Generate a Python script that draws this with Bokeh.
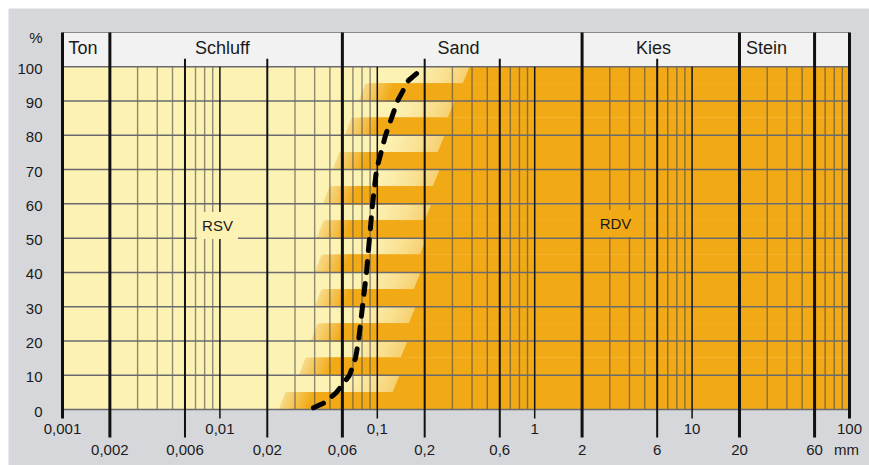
import math
from bokeh.plotting import figure
from bokeh.models import Range1d, Label
from bokeh.embed import file_html
from bokeh.resources import INLINE
from bokeh.core.properties import value

# ---------------- data ----------------
pct_ticks = [0, 10, 20, 30, 40, 50, 60, 70, 80, 90, 100]

# grading curve (percent passing vs grain size in mm)
curve_pct = [0.5, 2, 5, 10, 15, 20, 30, 40, 50, 60, 70, 80, 90, 96, 100]
curve_mm = [0.0393, 0.0462, 0.0551, 0.0666, 0.0727, 0.0760, 0.0805, 0.0854,
            0.0892, 0.0933, 0.0989, 0.1128, 0.1343, 0.1578, 0.2]

# staircase boundary between RSV and RDV zones
band_pct = [0, 10, 20, 30, 40, 50, 60, 70, 80, 90]
stripe_start_mm = [0.0236, 0.0316, 0.0377, 0.0399, 0.0399, 0.0411, 0.0449, 0.0519, 0.0619, 0.0760]
edge_mm = [0.1250, 0.1404, 0.1578, 0.1698, 0.1854, 0.1995, 0.2243, 0.2411, 0.2792, 0.3479]

# soil classes (header)
class_names = ["Ton", "Schluff", "Sand", "Kies", "Stein"]
class_label_mm = [0.00135, 0.01036, 0.328, 5.69, 29.7]
class_bounds_mm = [0.001, 0.002, 0.06, 2, 20, 60, 100]

# x tick marks / labels
decade_ticks = [0.001, 0.01, 0.1, 1, 10, 100]
decade_labels = ["0,001", "0,01", "0,1", "1", "10", "100"]
mid_ticks = [0.002, 0.006, 0.02, 0.06, 0.2, 0.6, 2, 6, 20, 60]
mid_labels = ["0,002", "0,006", "0,02", "0,06", "0,2", "0,6", "2", "6", "20", "60"]
unit_label = "mm"

zone_names = ["RSV", "RDV"]
zone_mm = [0.00966, 3.26]
zone_pct = [53.7, 54.3]

# ---------------- layout ----------------
MARGIN = 8
W, H = 861, 457     # gray panel size
X_MIN, X_MAX = 0.001, 100
PAD_L, PAD_R = 54, 20
PAD_T = 24          # pixels above header top
HEADER_TOP = 110
ZERO_PX = 401       # pixel row of 0 % from panel top
plot_w = W - PAD_L - PAD_R
D = plot_w / math.log10(X_MAX / X_MIN)         # px per decade
S = (ZERO_PX - PAD_T) / HEADER_TOP             # px per percent


def shift(mm, px):
    return mm * 10 ** (px / D)


x_start = shift(X_MIN, -PAD_L)
x_end = shift(X_MAX, PAD_R)
y_end = HEADER_TOP + PAD_T / S
y_start = -(H - ZERO_PX) / S

GRAY_BG = "#d6d7db"
HEADER_BG = "#f2f2f2"
PALE = (252, 242, 180)
ORANGE = (242, 169, 22)
LIGHT_OR = (246, 206, 110)
STRIPE_LIGHT = (247, 216, 130)
FONT = "Liberation Sans"
TXT = "#1a1a1a"


def hexc(c):
    return "#%02x%02x%02x" % tuple(int(round(v)) for v in c)


def lerp(c1, c2, t):
    return hexc([a + (b - a) * t for a, b in zip(c1, c2)])


p = figure(width=W + MARGIN, height=H + MARGIN, x_axis_type="log",
           x_axis_location=None, y_axis_location=None,
           x_range=Range1d(x_start, x_end), y_range=Range1d(y_start, y_end),
           output_backend="svg", toolbar_location=None,
           min_border_left=MARGIN, min_border_right=0, min_border_top=MARGIN, min_border_bottom=0,
           background_fill_color=GRAY_BG, border_fill_color="white", outline_line_color=None)
p.grid.grid_line_color = None

# base fills
p.quad(left=[X_MIN], right=[X_MAX], bottom=[0], top=[100], fill_color=hexc(PALE), line_color=None)
orange_from = shift(max(edge_mm), 12)
p.quad(left=[orange_from], right=[X_MAX], bottom=[0], top=[100], fill_color=hexc(ORANGE), line_color=None)
p.quad(left=[X_MIN], right=[X_MAX], bottom=[100], top=[HEADER_TOP], fill_color=HEADER_BG, line_color=None)

# staircase boundary with gradients
SLANT = 7
N_UP, G_UP = 14, 62
N_ST, W_ST = 10, 28
xs_list, ys_list, cols = [], [], []
for k, y0 in enumerate(band_pct):
    # upper half band: gradient towards slanted edge, then orange
    yb, yt = y0 + 5, y0 + 10
    xe = edge_mm[k]
    for i in range(N_UP + 1):
        d = -G_UP + G_UP * i / N_UP
        col = hexc(ORANGE) if i == N_UP else lerp(PALE, LIGHT_OR, (i / N_UP) ** 1.4)
        xs_list.append([shift(xe, d), X_MAX, X_MAX, shift(xe, d + SLANT)])
        ys_list.append([yb, yb, yt, yt])
        cols.append(col)
    # lower half band: orange stripe with gradient at its slanted left end
    yb, yt = y0 - (0.12 if y0 > 0 else 0), y0 + 5.12
    xs0 = stripe_start_mm[k]
    for i in range(N_ST + 1):
        d = W_ST * i / N_ST
        col = lerp(STRIPE_LIGHT, ORANGE, i / N_ST)
        xs_list.append([shift(xs0, d), X_MAX, X_MAX, shift(xs0, d + SLANT)])
        ys_list.append([yb, yb, yt, yt])
        cols.append(col)
p.patches(xs_list, ys_list, fill_color=cols, line_color=None)

# minor vertical grid lines (3,4,5,7,8,9 per decade)
minor = [m * 10.0 ** e for e in range(-3, 2) for m in (3, 4, 5, 7, 8, 9)]
p.segment(x0=minor, x1=minor, y0=[0] * len(minor), y1=[100] * len(minor),
          line_color="#4a4a4a", line_alpha=0.62, line_width=1.4)

# horizontal grid lines
p.segment(x0=[X_MIN] * len(pct_ticks), x1=[X_MAX] * len(pct_ticks), y0=pct_ticks, y1=pct_ticks,
          line_color="#6a6a6e", line_width=1.5)
p.segment(x0=[X_MIN], x1=[X_MAX], y0=[HEADER_TOP], y1=[HEADER_TOP], line_color="#8a8a8a", line_width=1)

# black vertical lines / ticks
LONG = -28 / S
SHORT = -9 / S
HEAD_TICK = 100 + 8 / S
sx, sy0, sy1, sw = [], [], [], []
for b in class_bounds_mm:
    sx.append(b); sy0.append(LONG if b in mid_ticks else SHORT); sy1.append(HEADER_TOP); sw.append(3)
for m in mid_ticks:
    if m not in class_bounds_mm:
        sx.append(m); sy0.append(LONG); sy1.append(HEAD_TICK); sw.append(2)
for d_ in decade_ticks:
    if d_ not in class_bounds_mm:
        sx.append(d_); sy0.append(SHORT); sy1.append(100); sw.append(1.5)
p.segment(x0=sx, x1=sx, y0=sy0, y1=sy1, line_color="#111111", line_width=sw)

# grading curve
p.line(curve_mm, curve_pct, line_color="black", line_width=5, line_dash="11 11",
       line_cap="round", line_join="round")

# header texts
p.text(x=class_label_mm, y=[HEADER_TOP - 15.5 / S] * len(class_names), text=class_names,
       text_font=value(FONT), text_font_size=value("18px"), text_color=TXT,
       text_align="center", text_baseline="middle")

# y labels
ylab_x = shift(X_MIN, -20)
p.text(x=[ylab_x] * len(pct_ticks), y=pct_ticks, text=[str(v) for v in pct_ticks],
       text_font=value(FONT), text_font_size=value("15px"), text_color=TXT,
       text_align="right", text_baseline="middle", y_offset=2)
p.text(x=[ylab_x], y=[HEADER_TOP - 5 / S], text=["%"],
       text_font=value(FONT), text_font_size=value("15px"), text_color=TXT,
       text_align="right", text_baseline="middle")

# x labels
row1 = -19 / S
row2 = -40 / S
p.text(x=decade_ticks, y=[row1] * len(decade_ticks), text=decade_labels,
       text_font=value(FONT), text_font_size=value("15px"), text_color=TXT,
       text_align="center", text_baseline="middle")
p.text(x=mid_ticks + [shift(X_MAX, -3)], y=[row2] * (len(mid_ticks) + 1), text=mid_labels + [unit_label],
       text_font=value(FONT), text_font_size=value("15px"), text_color=TXT,
       text_align="center", text_baseline="middle")

# zone labels with background boxes
for name, xm, yp, bg in zip(zone_names, zone_mm, zone_pct, [hexc(PALE), hexc(ORANGE)]):
    p.add_layout(Label(x=xm, y=yp, x_units="data", y_units="data", text=name,
                       text_font=FONT, text_font_size="15px", text_color=TXT,
                       text_align="center", text_baseline="middle",
                       background_fill_color=bg, padding=5))

open("out.html", "w").write(file_html(p, INLINE))
